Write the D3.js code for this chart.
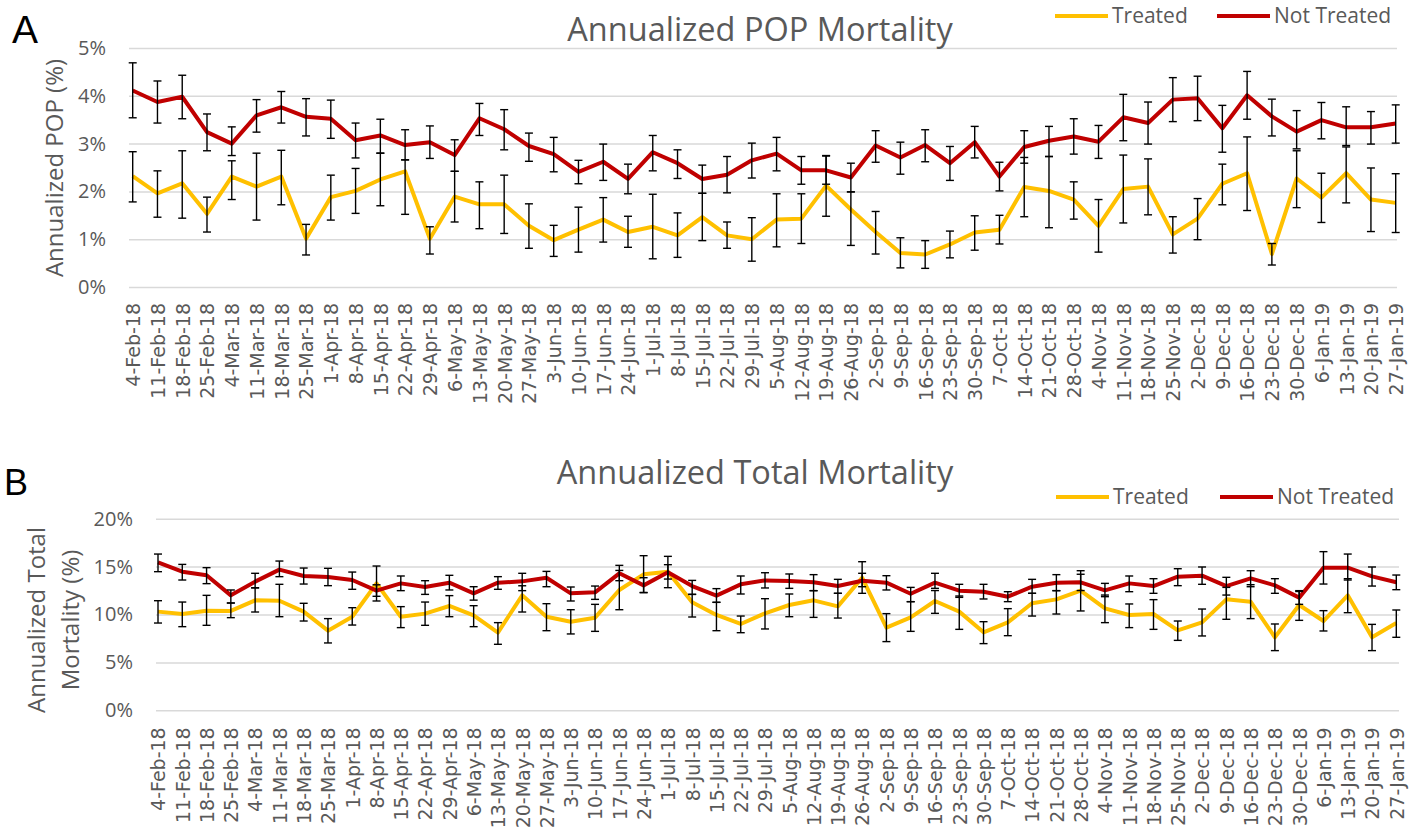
<!DOCTYPE html>
<html>
<head>
<meta charset="utf-8">
<script src="https://cdn.jsdelivr.net/npm/d3@7"></script>
<style>
  body { margin: 0; background: #fff; }
  text { font-family: "Open Sans", sans-serif; }
</style>
</head>
<body>
<div id="chart"></div>
<script>
// weekly dates shared by both panels
const dates = ["4-Feb-18","11-Feb-18","18-Feb-18","25-Feb-18","4-Mar-18","11-Mar-18","18-Mar-18","25-Mar-18",
  "1-Apr-18","8-Apr-18","15-Apr-18","22-Apr-18","29-Apr-18","6-May-18","13-May-18","20-May-18","27-May-18",
  "3-Jun-18","10-Jun-18","17-Jun-18","24-Jun-18","1-Jul-18","8-Jul-18","15-Jul-18","22-Jul-18","29-Jul-18",
  "5-Aug-18","12-Aug-18","19-Aug-18","26-Aug-18","2-Sep-18","9-Sep-18","16-Sep-18","23-Sep-18","30-Sep-18",
  "7-Oct-18","14-Oct-18","21-Oct-18","28-Oct-18","4-Nov-18","11-Nov-18","18-Nov-18","25-Nov-18","2-Dec-18",
  "9-Dec-18","16-Dec-18","23-Dec-18","30-Dec-18","6-Jan-19","13-Jan-19","20-Jan-19","27-Jan-19"];

// Panel A - annualized POP mortality (%)
const popTreated = [2.32,1.96,2.17,1.53,2.31,2.10,2.31,1.01,1.88,2.01,2.25,2.42,1.01,1.89,
  1.73,1.73,1.28,0.98,1.20,1.41,1.15,1.26,1.08,1.46,1.08,1.00,1.41,1.43,2.12,1.62,1.15,0.71,0.68,
  0.89,1.14,1.20,2.09,2.01,1.83,1.28,2.05,2.10,1.10,1.43,2.16,2.38,0.69,2.27,1.87,2.38,1.83,1.76];
const popTreatedHi = [2.83,2.43,2.85,1.88,2.64,2.80,2.86,1.31,2.34,2.48,2.80,2.66,1.26,2.42,
  2.20,2.34,1.74,1.29,1.67,1.87,1.48,1.94,1.55,1.96,1.36,1.45,1.95,1.95,2.75,1.99,1.58,1.03,0.97,
  1.17,1.49,1.50,2.71,2.73,2.20,1.83,2.76,2.68,1.47,1.85,2.57,3.14,0.91,2.85,2.38,2.93,2.49,2.37];
const popTreatedLo = [1.78,1.46,1.44,1.15,1.83,1.40,1.72,0.67,1.40,1.54,1.70,1.52,0.69,1.36,
  1.22,1.12,0.81,0.64,0.73,0.94,0.83,0.59,0.62,0.97,0.81,0.54,0.84,0.91,1.48,0.87,0.69,0.40,0.39,
  0.61,0.77,0.90,1.47,1.24,1.42,0.73,1.34,1.51,0.71,0.99,1.72,1.60,0.46,1.66,1.35,1.76,1.16,1.14];
const popNot = [4.11,3.87,3.98,3.24,3.00,3.59,3.76,3.56,3.52,3.07,3.17,2.97,3.03,2.76,
  3.53,3.30,2.95,2.78,2.41,2.62,2.26,2.82,2.59,2.26,2.35,2.65,2.79,2.44,2.44,2.29,2.96,2.71,2.97,
  2.59,3.03,2.31,2.93,3.06,3.15,3.04,3.55,3.43,3.92,3.95,3.32,4.01,3.57,3.25,3.49,3.34,3.34,3.42];
const popNotHi = [4.69,4.31,4.43,3.62,3.35,3.92,4.09,3.94,3.91,3.43,3.51,3.29,3.37,3.08,
  3.84,3.71,3.22,3.13,2.65,2.99,2.57,3.17,2.87,2.55,2.73,3.01,3.13,2.73,2.74,2.59,3.27,3.03,3.29,
  2.94,3.36,2.61,3.27,3.36,3.52,3.38,4.03,3.87,4.38,4.41,3.80,4.51,3.93,3.69,3.86,3.77,3.67,3.81];
const popNotLo = [3.54,3.43,3.52,2.85,2.75,3.24,3.43,3.16,3.11,2.70,2.80,2.66,2.69,2.42,
  3.17,2.87,2.63,2.41,2.16,2.23,1.95,2.43,2.27,1.96,1.97,2.28,2.43,2.15,2.15,1.99,2.61,2.36,2.62,
  2.23,2.70,2.01,2.59,2.73,2.78,2.69,3.06,2.99,3.46,3.48,2.82,3.51,3.16,2.89,3.10,2.96,2.99,3.01];

// Panel B - annualized total mortality (%)
const totTreated = [10.30,10.05,10.40,10.37,11.48,11.44,10.30,8.31,9.77,13.25,9.77,10.09,10.89,9.90,
  8.10,12.00,9.77,9.25,9.67,12.56,14.19,14.47,11.27,9.95,9.01,10.12,10.99,11.48,10.85,13.84,8.63,9.70,
  11.41,10.30,8.14,9.18,11.17,11.58,12.49,10.64,9.95,10.05,8.35,9.18,11.58,11.34,7.62,10.99,9.32,12.00,7.62,9.11];
const totTreatedHi = [11.44,11.30,12.00,11.20,12.77,13.15,11.17,9.57,10.71,15.06,10.82,11.30,11.97,10.92,
  9.15,13.00,11.13,10.50,11.06,14.60,16.14,16.07,12.10,11.27,9.84,11.65,12.14,12.49,12.21,15.51,10.09,11.34,
  12.50,11.93,9.25,10.61,12.21,12.49,14.57,12.03,11.10,11.55,9.32,10.57,12.83,13.11,9.01,12.40,10.40,13.74,8.97,10.47];
const totTreatedLo = [9.11,8.73,8.87,9.67,10.26,9.77,9.32,7.03,8.90,11.41,8.63,8.87,9.77,8.73,
  6.89,10.26,8.31,7.97,8.24,10.50,12.28,12.80,9.74,8.31,8.10,8.49,9.77,9.70,9.63,12.21,7.17,8.24,
  10.12,8.45,6.96,7.79,9.84,10.05,10.37,9.15,8.63,8.45,7.30,7.76,9.50,9.57,6.23,9.39,8.28,10.19,6.23,7.62];
const totNot = [15.44,14.47,14.09,12.00,13.43,14.68,14.02,13.91,13.60,12.49,13.25,12.87,13.32,12.21,
  13.32,13.46,13.84,12.21,12.31,14.30,13.04,14.40,12.97,11.97,13.15,13.56,13.50,13.36,12.97,13.53,13.32,12.17,
  13.32,12.49,12.38,11.86,12.90,13.32,13.36,12.52,13.25,12.97,13.95,14.05,12.97,13.77,13.04,11.76,14.89,14.89,13.98,13.36];
const totNotHi = [16.31,15.23,14.89,12.56,14.30,15.58,14.85,14.82,14.43,13.10,14.02,13.53,14.09,12.90,
  13.95,14.30,14.50,12.87,12.97,15.13,13.84,15.20,13.56,12.70,14.02,14.36,14.23,14.16,13.67,14.30,14.05,12.83,
  14.30,13.15,13.15,12.38,13.67,14.16,14.20,13.25,14.02,13.74,14.78,14.96,13.88,14.57,13.74,12.49,16.56,16.31,14.96,14.12];
const totNotLo = [14.47,13.60,13.22,11.20,12.80,13.95,13.18,13.01,12.63,11.90,12.49,12.10,12.56,11.50,
  12.63,12.49,12.90,11.41,11.58,13.53,12.30,13.70,12.10,11.27,12.14,12.77,12.73,12.49,12.21,12.90,12.56,11.34,
  12.73,11.79,11.62,11.34,12.21,12.49,12.50,11.86,12.38,12.21,13.01,13.15,12.03,12.90,12.21,11.06,13.18,13.60,12.97,12.59];

const seriesNames = ["Treated", "Not Treated"];
const popTicks = [0, 1, 2, 3, 4, 5];
const totTicks = [0, 5, 10, 15, 20];

const colors = { "Treated": "#FFC000", "Not Treated": "#C00000" };
const textColor = "#595959";

const svg = d3.select("#chart").append("svg")
    .attr("width", 1421)
    .attr("height", 830);

// Draws one panel (gridlines, axes, lines, error bars, title, legend)
function drawPanel(p) {
    const g = svg.append("g");

    const x = d3.scalePoint()
        .domain(dates)
        .range([p.x0, p.x1]);

    const y = d3.scaleLinear()
        .domain([0, d3.max(p.ticks)])
        .range([p.yBottom, p.yTop]);

    // Y axis with gridlines
    const yAxis = g.append("g")
        .attr("transform", `translate(${p.gridLeft},0)`)
        .call(d3.axisLeft(y)
            .tickValues(p.ticks)
            .tickSize(-(p.gridRight - p.gridLeft))
            .tickPadding(23)
            .tickFormat(d => d + "%"));
    yAxis.select(".domain").remove();
    yAxis.selectAll("line").attr("stroke", "#D9D9D9").attr("stroke-width", 1.5);
    yAxis.selectAll("text")
        .attr("fill", textColor)
        .style("font-family", "'Open Sans', sans-serif")
        .style("font-size", "20px");

    // X axis labels, rotated
    const xAxis = g.append("g")
        .attr("transform", `translate(0,${p.yBottom})`)
        .call(d3.axisBottom(x).tickSize(0));
    xAxis.select(".domain").remove();
    xAxis.selectAll("text")
        .attr("fill", textColor)
        .attr("transform", "rotate(-90)")
        .attr("x", -p.labelGap)
        .attr("y", 0)
        .attr("dy", "0.36em")
        .attr("text-anchor", "end")
        .style("font-family", "'DejaVu Sans', sans-serif")
        .style("font-size", "19px");

    const series = [
        { name: "Treated", v: p.treated, hi: p.treatedHi, lo: p.treatedLo },
        { name: "Not Treated", v: p.notTreated, hi: p.notHi, lo: p.notLo }
    ];

    // Lines
    const line = d3.line()
        .x((d, i) => x(dates[i]))
        .y(d => y(d));
    series.forEach(s => {
        g.append("path")
            .datum(s.v)
            .attr("fill", "none")
            .attr("stroke", colors[s.name])
            .attr("stroke-width", 4)
            .attr("stroke-linejoin", "round")
            .attr("d", line);
    });

    // Error bars
    series.forEach(s => {
        const eb = g.append("g")
            .selectAll("g")
            .data(dates)
            .enter()
            .append("g")
            .attr("stroke", "#000")
            .attr("stroke-width", 1.4);
        eb.append("line")
            .attr("x1", d => x(d)).attr("x2", d => x(d))
            .attr("y1", (d, i) => y(s.hi[i])).attr("y2", (d, i) => y(s.lo[i]));
        eb.append("line")
            .attr("x1", d => x(d) - 4).attr("x2", d => x(d) + 4)
            .attr("y1", (d, i) => y(s.hi[i])).attr("y2", (d, i) => y(s.hi[i]));
        eb.append("line")
            .attr("x1", d => x(d) - 4).attr("x2", d => x(d) + 4)
            .attr("y1", (d, i) => y(s.lo[i])).attr("y2", (d, i) => y(s.lo[i]));
    });

    // Title
    g.append("text")
        .attr("x", p.titleX)
        .attr("y", p.titleY)
        .attr("text-anchor", "middle")
        .attr("fill", textColor)
        .style("font-size", "32.5px")
        .text(p.title);

    // Legend
    seriesNames.forEach((name, i) => {
        const lx = p.legendX[i];
        g.append("line")
            .attr("x1", lx).attr("x2", lx + 53)
            .attr("y1", p.legendY).attr("y2", p.legendY)
            .attr("stroke", colors[name])
            .attr("stroke-width", 4);
        g.append("text")
            .attr("x", lx + 57)
            .attr("y", p.legendY + 7)
            .attr("fill", textColor)
            .style("font-size", "21px")
            .text(name);
    });

    // Y axis title
    const yt = g.append("text")
        .attr("transform", `translate(${p.yTitleX},${p.yTitleY}) rotate(-90)`)
        .attr("text-anchor", "middle")
        .attr("fill", textColor)
        .style("font-size", "24px");
    p.yTitle.forEach((t, i) => {
        yt.append("tspan")
            .attr("x", 0)
            .attr("dy", i === 0 ? 0 : "1.4em")
            .text(t);
    });

    // Panel letter
    g.append("text")
        .attr("x", p.letterX)
        .attr("y", p.letterY)
        .attr("fill", "#000")
        .style("font-family", "'Liberation Sans', Arial, sans-serif")
        .style("font-size", p.letterSize + "px")
        .text(p.letter);
}

drawPanel({
    letter: "A", letterX: 12, letterY: 43, letterSize: 39,
    title: "Annualized POP Mortality", titleX: 760, titleY: 41,
    yTitle: ["Annualized POP (%)"], yTitleX: 63, yTitleY: 168,
    ticks: popTicks, yTop: 48, yBottom: 287,
    x0: 132.7, x1: 1395.7, gridLeft: 129, gridRight: 1397, labelGap: 16,
    legendX: [1055, 1217], legendY: 16,
    treated: popTreated, treatedHi: popTreatedHi, treatedLo: popTreatedLo,
    notTreated: popNot, notHi: popNotHi, notLo: popNotLo
});

drawPanel({
    letter: "B", letterX: 4, letterY: 495, letterSize: 36,
    title: "Annualized Total Mortality", titleX: 755, titleY: 484,
    yTitle: ["Annualized Total", "Mortality (%)"], yTitleX: 45, yTitleY: 620,
    ticks: totTicks, yTop: 518.7, yBottom: 710.3,
    x0: 158, x1: 1396.3, gridLeft: 156, gridRight: 1399, labelGap: 17,
    legendX: [1056, 1220], legendY: 497,
    treated: totTreated, treatedHi: totTreatedHi, treatedLo: totTreatedLo,
    notTreated: totNot, notHi: totNotHi, notLo: totNotLo
});
</script>
</body>
</html>
